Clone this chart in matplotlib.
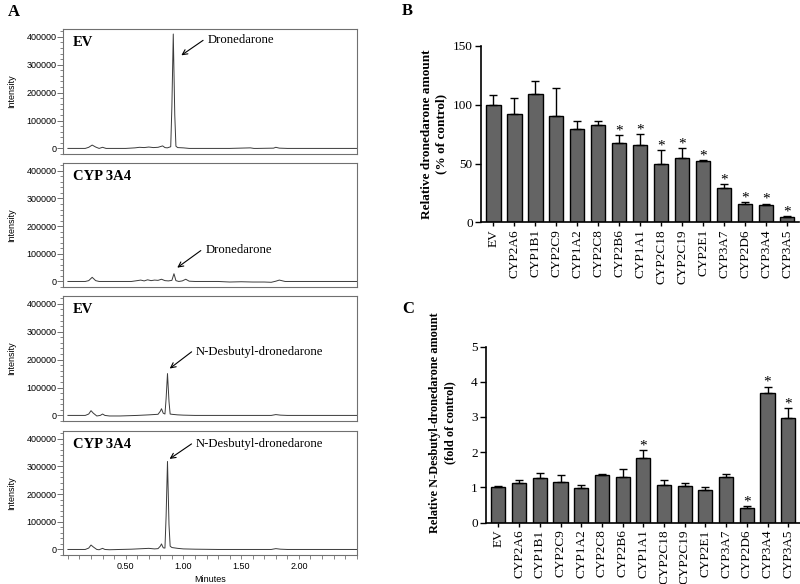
import numpy as np
import matplotlib
matplotlib.use("Agg")
import matplotlib.pyplot as plt
from matplotlib.ticker import MultipleLocator, FormatStrFormatter

# ---- chromatograms (panel A): time in minutes, intensity in counts
ev_dron_t = [0.00, 0.15, 0.18, 0.21, 0.24, 0.27, 0.30, 0.33, 0.40, 0.50, 0.58, 0.62, 0.66, 0.70,
             0.74, 0.78, 0.82, 0.84, 0.86, 0.89, 0.90, 0.912, 0.925, 0.935, 0.95, 1.00, 1.05, 1.20,
             1.40, 1.58, 1.61, 1.64, 1.78, 1.80, 1.83, 1.90, 2.10, 2.30, 2.50]
ev_dron_y = [0, 0, 4000, 12000, 5000, 0, 4000, 0, 0, 0, 2000, 4000, 3000, 5000,
             3000, 4000, 9000, 3000, 2000, 6000, 150000, 410000, 120000, 8000, 3000, 2000, 0, 0,
             0, 2000, 0, 0, 1000, 4000, 1000, 0, 0, 0, 0]

a4_dron_t = [0.00, 0.15, 0.18, 0.21, 0.24, 0.27, 0.30, 0.40, 0.55, 0.60, 0.63, 0.66, 0.69, 0.72,
             0.75, 0.78, 0.81, 0.84, 0.87, 0.90, 0.918, 0.935, 0.96, 0.99, 1.02, 1.05, 1.10, 1.30,
             1.40, 1.50, 1.60, 1.70, 1.76, 1.80, 1.83, 1.88, 2.00, 2.20, 2.50]
a4_dron_y = [0, 0, 3000, 15000, 3000, 0, 0, 0, 0, 3000, 5000, 2000, 6000, 3000,
             5000, 4000, 8000, 3000, 2000, 4000, 28000, 3000, 0, 2000, 8000, 1000, 0, 0,
             -2000, -1000, -2000, -2000, -3000, 1000, 5000, 0, 0, 0, 0]

ev_nd_t = [0.00, 0.15, 0.18, 0.20, 0.22, 0.25, 0.28, 0.30, 0.32, 0.36, 0.45, 0.60, 0.70, 0.78,
           0.80, 0.81, 0.825, 0.84, 0.85, 0.862, 0.875, 0.885, 0.90, 0.95, 1.00, 1.10, 1.30, 1.50,
           1.76, 1.80, 1.84, 1.90, 2.10, 2.50]
ev_nd_y = [0, 0, 5000, 17000, 8000, -2000, 0, 5000, 0, -2000, -2000, 0, 2000, 4000,
           15000, 24000, 8000, 5000, 60000, 150000, 50000, 5000, 4000, 2000, 1000, 0, 0, 0,
           0, 3000, 1000, 0, 0, 0]

a4_nd_t = [0.00, 0.15, 0.18, 0.20, 0.22, 0.25, 0.27, 0.30, 0.32, 0.36, 0.45, 0.55, 0.65, 0.70,
           0.75, 0.78, 0.80, 0.81, 0.825, 0.84, 0.85, 0.862, 0.875, 0.885, 0.90, 0.95, 1.00, 1.10,
           1.30, 1.50, 1.76, 1.80, 1.84, 1.90, 2.10, 2.50]
a4_nd_y = [0, 0, 5000, 16000, 9000, 0, -1000, 4000, 0, -1000, 0, 1000, 3000, 4000,
           2000, 3000, 12000, 20000, 6000, 5000, 120000, 318000, 90000, 12000, 7000, 4000, 2000, 1000,
           0, 0, 0, 3000, 1000, 0, 0, 0]

# ---- bar charts (panels B and C)
enzymes = ['EV', 'CYP2A6', 'CYP1B1', 'CYP2C9', 'CYP1A2', 'CYP2C8', 'CYP2B6', 'CYP1A1',
           'CYP2C18', 'CYP2C19', 'CYP2E1', 'CYP3A7', 'CYP2D6', 'CYP3A4', 'CYP3A5']
dron_mean = [100, 92, 109, 90.6, 79.3, 83, 67.3, 65.6, 49.7, 54.5, 52, 29.3, 15.6, 14.5, 4.5]
dron_sd = [8.5, 14, 11.5, 24, 7, 3.6, 6.8, 9.4, 11.9, 8.9, 1.1, 3.4, 1.4, 1.4, 0.6]
dron_sig = [0, 0, 0, 0, 0, 0, 1, 1, 1, 1, 1, 1, 1, 1, 1]

nd_mean = [1.0, 1.11, 1.26, 1.16, 0.99, 1.36, 1.28, 1.84, 1.07, 1.03, 0.93, 1.28, 0.40, 3.69, 2.97]
nd_sd = [0.04, 0.09, 0.16, 0.18, 0.08, 0.01, 0.23, 0.21, 0.14, 0.10, 0.07, 0.10, 0.07, 0.17, 0.27]
nd_sig = [0, 0, 0, 0, 0, 0, 0, 1, 0, 0, 0, 0, 1, 1, 1]

serif = ['Liberation Serif', 'DejaVu Serif']
sans = ['Liberation Sans', 'DejaVu Sans']

fig = plt.figure(figsize=(8, 5.84), dpi=100)
W, H = 800.0, 584.0


def box(l, t, r, b):
    return fig.add_axes([l / W, 1 - b / H, (r - l) / W, (b - t) / H])


def chrom(top, bottom, t, y, label, name, head, tail, last=False):
    ax = box(63.3, top, 356.7, bottom)
    ax.plot(t, y, color='#3a3a3a', lw=0.7)
    ax.set_xlim(-0.04, 2.5)
    ax.set_ylim(-20000, 428000)
    ax.yaxis.set_major_locator(MultipleLocator(100000))
    ax.yaxis.set_minor_locator(MultipleLocator(20000))
    ax.yaxis.set_major_formatter(FormatStrFormatter('%d'))
    ax.xaxis.set_major_locator(MultipleLocator(0.5))
    ax.xaxis.set_minor_locator(MultipleLocator(0.1))
    ax.xaxis.set_major_formatter(FormatStrFormatter('%.2f'))
    for s in ax.spines.values():
        s.set_color('#707070')
        s.set_linewidth(0.8)
    ax.tick_params(axis='y', which='major', length=4, width=0.7, color='#707070', labelsize=6.5, pad=1)
    ax.tick_params(axis='y', which='minor', length=2, width=0.6, color='#707070')
    for lab in ax.get_yticklabels():
        lab.set_family(sans)
    ax.set_ylabel('Intensity', family=sans, fontsize=6.5)
    ax.yaxis.set_label_coords(-0.16, 0.5)
    if last:
        ax.tick_params(axis='x', which='both', length=3, width=0.6, color='#707070', labelsize=6.5, pad=2)
        for lab in ax.get_xticklabels():
            lab.set_family(sans)
        ax.set_xlabel('Minutes', family=sans, fontsize=6.5, labelpad=3)
        ticks = ax.get_xticks()
        ax.set_xticks([v for v in ticks if 0.4 < v < 2.4])
    else:
        ax.tick_params(axis='x', which='both', bottom=False, labelbottom=False)
    ax.text(0.032, 0.89, label, transform=ax.transAxes, family=serif, fontweight='bold',
            fontsize=10.5, va='center', ha='left')
    ax.annotate('', xy=head, xytext=tail,
                arrowprops=dict(arrowstyle='->', color='black', lw=0.8, mutation_scale=9))
    ax.text(tail[0] + 0.02, tail[1] - 5000, name, family=serif, fontsize=9.2, va='center', ha='left')
    return ax


chrom(29, 154, ev_dron_t, ev_dron_y, 'EV', 'Dronedarone', (0.962, 328000), (1.19, 393000))
chrom(163, 287, a4_dron_t, a4_dron_y, 'CYP 3A4', 'Dronedarone', (0.927, 44000), (1.17, 117500))
chrom(296, 421, ev_nd_t, ev_nd_y, 'EV', 'N-Desbutyl-dronedarone', (0.862, 162000), (1.09, 234000))
chrom(431, 555, a4_nd_t, a4_nd_y, 'CYP 3A4', 'N-Desbutyl-dronedarone', (0.86, 321500), (1.09, 387000),
      last=True)


def bars(ax, mean, sd, sig, ymax, step, ylabel, label_size):
    x = np.arange(len(enzymes))
    ax.bar(x, mean, width=0.68, color='#646464', edgecolor='black', linewidth=1.0, zorder=2)
    ax.errorbar(x, mean, yerr=[np.zeros(len(sd)), sd], fmt='none', ecolor='black',
                elinewidth=1.0, capsize=3, capthick=1.0, zorder=3)
    for xi, m, e, s in zip(x, mean, sd, sig):
        if s:
            ax.annotate('*', (xi, m + e), xytext=(0, 0.5), textcoords='offset points',
                        ha='center', va='baseline', family=serif, fontsize=11)
    ax.set_ylim(0, ymax)
    ax.set_yticks(np.arange(0, ymax + step / 2, step))
    ax.set_xticks(x)
    ax.set_xticklabels(enzymes, rotation=90, family=serif, fontsize=9.5)
    for lab in ax.get_yticklabels():
        lab.set_family(serif)
    ax.tick_params(axis='y', length=4, width=1.0, labelsize=9.5, pad=2)
    ax.tick_params(axis='x', length=3, width=1.0, pad=2)
    ax.spines['top'].set_visible(False)
    ax.spines['right'].set_visible(False)
    ax.spines['left'].set_linewidth(1.2)
    ax.spines['bottom'].set_linewidth(1.2)
    ax.set_ylabel(ylabel, family=serif, fontweight='bold', fontsize=label_size, linespacing=1.3)


axB = box(481, 46, 799, 222.3)
bars(axB, dron_mean, dron_sd, dron_sig, 150, 50,
     'Relative dronedarone amount\n(% of control)', 9.5)
axB.set_xlim(-0.59, 14.56)
axB.yaxis.set_label_coords(-0.105, 0.5)

axC = box(486, 346.5, 800, 522.5)
bars(axC, nd_mean, nd_sd, nd_sig, 5, 1,
     'Relative N-Desbutyl-dronedarone amount\n(fold of control)', 8.8)
axC.set_xlim(-0.60, 14.57)
axC.yaxis.set_label_coords(-0.095, 0.565)

fig.text(8 / W, 1 - 12 / H, 'A', family=serif, fontweight='bold', fontsize=12, va='center')
fig.text(402 / W, 1 - 11 / H, 'B', family=serif, fontweight='bold', fontsize=12, va='center')
fig.text(402 / W, 1 - 309 / H, 'C', family=serif, fontweight='bold', fontsize=12, va='center')

fig.savefig('out.png', dpi=100)
